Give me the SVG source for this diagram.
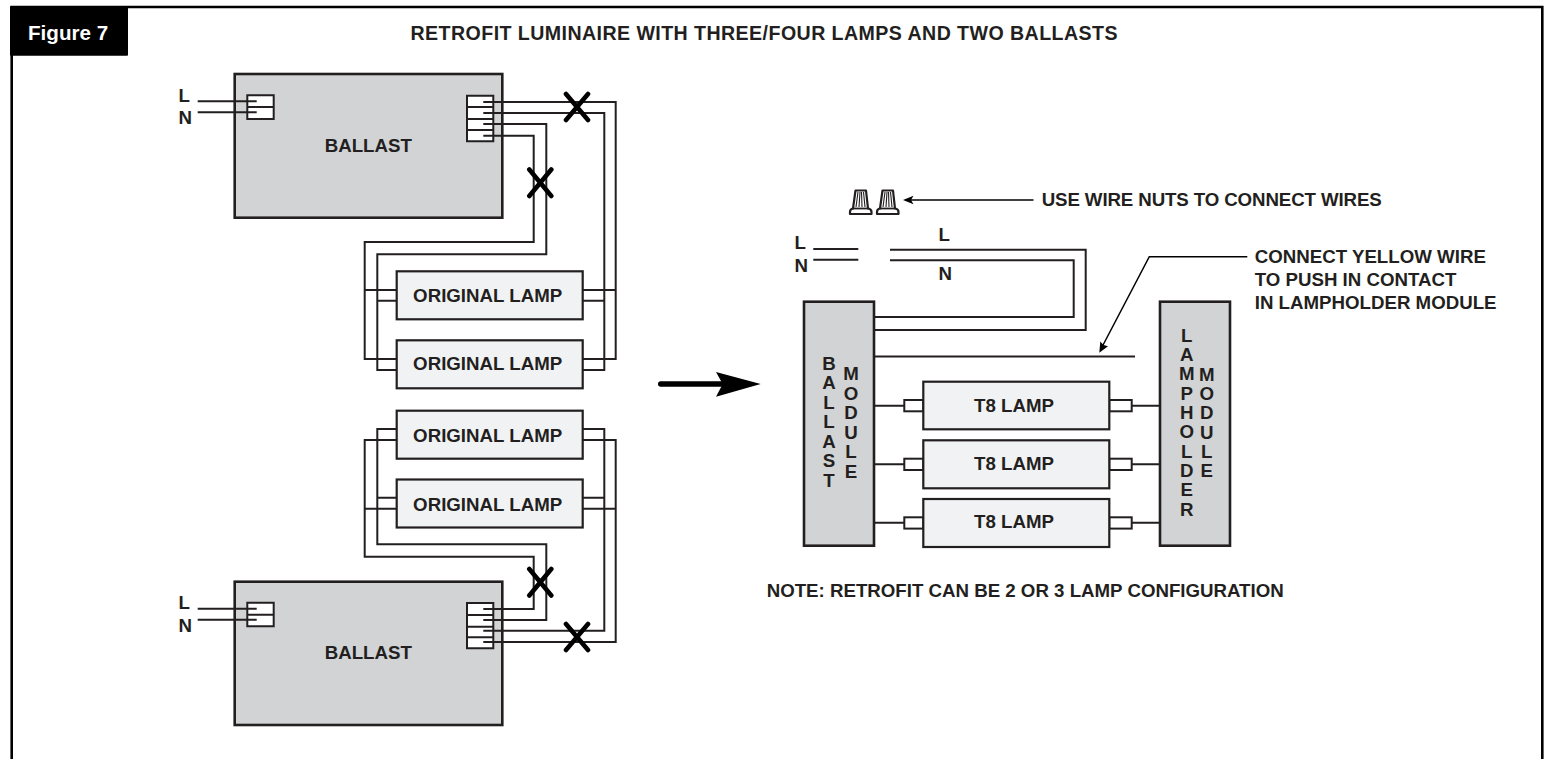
<svg xmlns="http://www.w3.org/2000/svg" width="1548" height="759" viewBox="0 0 1548 759">
<style>
text{font-family:"Liberation Sans",Arial,Helvetica,sans-serif;font-weight:700;fill:#231f20;font-size:18.7px}
.m{text-anchor:middle}
.box{fill:#d1d3d4;stroke:#231f20;stroke-width:2.6}
.lamp{fill:#f1f2f4;stroke:#231f20;stroke-width:2.2}
.term{fill:#fff;stroke:#231f20;stroke-width:2}
.w{fill:none;stroke:#231f20;stroke-width:2}
.x{fill:none;stroke:#000;stroke-width:4.6;stroke-linecap:round}
.l{fill:none;stroke:#000;stroke-width:1.5}
</style>
<defs>
<g id="nut">
<path d="M855.5 190.5H866L868 208.5Q871.5 209 871.5 212V214H850V212Q850 209 853 208.5Z" fill="#fff" stroke="#231f20" stroke-width="2.2" stroke-linejoin="round"/>
<path d="M853 208.5H868" fill="none" stroke="#231f20" stroke-width="1.8"/>
<path d="M858 192L856 207M860 192L859 207M861.5 192L862 207M863.5 192L865 207" fill="none" stroke="#231f20" stroke-width="1.1"/>
</g>
</defs>
<g id="frame">
<path d="M11.7 759V7H1542.3V759" fill="none" stroke="#000" stroke-width="2.6"/>
<rect x="10" y="6" width="118" height="49.7" rx="1" fill="#000"/>
<text x="28" y="40" style="fill:#fff;font-size:20.6px">Figure 7</text>
<text x="410.5" y="40" style="font-size:19.6px" textLength="707" lengthAdjust="spacing">RETROFIT LUMINAIRE WITH THREE/FOUR LAMPS AND TWO BALLASTS</text>
</g>
<g id="connectors">
<path class="w" d="M483.3 102H615.7V359H583M483.3 113H604.3V370H583M483.3 124H546.3V254.3H377.3V370H396.7M483.3 135.7H533.7V242H364.7V359H396.7"/>
<path class="w" d="M364.7 290H396.7M377.3 300.7H396.7M583 290H615.7M583 300.7H604.3"/>
<path class="w" d="M197.7 101.3H256.7M197.7 112.3H256.7"/>
<path class="w" d="M483.3 620H546.3V544.3H377.3V429H396.7M483.3 609H533.7V556.7H364.7V440H396.7M483.3 630.7H604.3V429H583M483.3 642H615.7V440H583"/>
<path class="w" d="M377.3 497.7H396.7M364.7 508.7H396.7M583 497.7H604.3M583 508.7H615.7"/>
<path class="w" d="M197.7 608.7H256.7M197.7 619.7H256.7"/>
<path class="w" d="M813.3 249H858.3M813.3 259.7H858.3M890 249.7H1085.7V330H874.3M890 260.3H1073.7V317H874.3M874 356.5H1135"/>
<path class="w" d="M874 405.7H904.3M874 464.3H904.3M874 522.7H904.3M1131.7 405.7H1160M1131.7 464.3H1160M1131.7 522.7H1160"/>
<path class="x" d="M566 94L588 120M588 94L566 120M529.3 169.5L551.3 196M551.3 169.5L529.3 196M529.3 569L551.3 595.5M551.3 569L529.3 595.5M566 624L588 650M588 624L566 650"/>
<path class="l" d="M1033.5 200H908"/>
<path d="M903 200L913.5 195.8L911 200L913.5 204.2Z" fill="#000"/>
<path class="l" d="M1247.3 256.7H1149.3L1102 347"/>
<path d="M1099.3 352.7L1100.3 341.5L1103.5 345L1108 346.2Z" fill="#000"/>
<path d="M660.7 384H723" fill="none" stroke="#000" stroke-width="5.4" stroke-linecap="round"/>
<path d="M760.7 384L716 372L722.7 384L716 396.7Z" fill="#000"/>
</g>
<g id="ballast-top">
<rect class="box" x="234.7" y="74" width="267.6" height="143.7"/>
<path class="term" d="M247.3 95.3H273.7V119H247.3ZM247.3 107H273.7M467 95.7H493.3V141.3H467ZM467 107H493.3M467 119H493.3M467 130H493.3"/>
<path class="w" d="M235 101.3H256.7M235 112.3H256.7M483.3 102H502M483.3 113H502M483.3 124H502M483.3 135.7H502"/>
<text class="m" x="368.3" y="152">BALLAST</text>
<text x="178.5" y="101.7">L</text><text x="178.5" y="124.3">N</text>
</g>
<g id="ballast-bottom">
<rect class="box" x="234.7" y="581.7" width="267.6" height="143.3"/>
<path class="term" d="M247.3 602.7H273.7V626.3H247.3ZM247.3 614.7H273.7M467 603H493.3V648.3H467ZM467 615H493.3M467 626.7H493.3M467 637.3H493.3"/>
<path class="w" d="M235 608.7H256.7M235 619.7H256.7M483.3 609H502M483.3 620H502M483.3 630.7H502M483.3 642H502"/>
<text class="m" x="368.3" y="658.7">BALLAST</text>
<text x="178.5" y="609">L</text><text x="178.5" y="631.7">N</text>
</g>
<g id="lamp-1"><rect class="lamp" x="396.7" y="271.3" width="186" height="48"/><text class="m" x="487.7" y="302">ORIGINAL LAMP</text></g>
<g id="lamp-2"><rect class="lamp" x="396.7" y="340.3" width="186" height="48"/><text class="m" x="487.7" y="370">ORIGINAL LAMP</text></g>
<g id="lamp-3"><rect class="lamp" x="396.7" y="410.7" width="186" height="48"/><text class="m" x="487.7" y="441.7">ORIGINAL LAMP</text></g>
<g id="lamp-4"><rect class="lamp" x="396.7" y="479.5" width="186" height="48"/><text class="m" x="487.7" y="510.7">ORIGINAL LAMP</text></g>
<g id="wire-nuts"><use href="#nut"/><use href="#nut" x="27"/></g>
<g id="labels">
<text x="1041.7" y="205.7" textLength="340" lengthAdjust="spacing">USE WIRE NUTS TO CONNECT WIRES</text>
<text x="794.5" y="249">L</text><text x="794.5" y="271.7">N</text>
<text x="938.5" y="241">L</text><text x="938.5" y="280">N</text>
<text x="1254.7" y="263.3">CONNECT YELLOW WIRE</text>
<text x="1254.7" y="286.3">TO PUSH IN CONTACT</text>
<text x="1254.7" y="309">IN LAMPHOLDER MODULE</text>
<text x="766.7" y="596.7" textLength="517" lengthAdjust="spacing">NOTE: RETROFIT CAN BE 2 OR 3 LAMP CONFIGURATION</text>
</g>
<g id="ballast-module">
<rect class="box" x="804" y="301.7" width="70" height="244"/>
<text class="m" x="829 829 829 829 829 829 829" y="370 389.4 408.9 428.3 447.8 467.2 486.7">BALLAST</text>
<text class="m" x="851 851 851 851 851 851" y="380 399.6 419.2 438.8 458.4 478">MODULE</text>
</g>
<g id="lampholder-module">
<rect class="box" x="1160" y="301.7" width="70" height="244"/>
<text class="m" x="1186.7 1186.7 1186.7 1186.7 1186.7 1186.7 1186.7 1186.7 1186.7 1186.7" y="341.7 361 380.4 399.7 419 438.4 457.7 477 496.4 515.7">LAMPHOLDER</text>
<text class="m" x="1206.7 1206.7 1206.7 1206.7 1206.7 1206.7" y="380.7 400 419.3 438.5 457.8 477">MODULE</text>
</g>
<g id="t8-lamp-1"><rect class="term" x="904.3" y="400" width="19" height="11.3"/><rect class="term" x="1109.3" y="400" width="22.4" height="11.3"/><rect class="lamp" x="923.3" y="381.7" width="186" height="47.6"/><text class="m" x="1014" y="412">T8 LAMP</text></g>
<g id="t8-lamp-2"><rect class="term" x="904.3" y="458.7" width="19" height="11.3"/><rect class="term" x="1109.3" y="458.7" width="22.4" height="11.3"/><rect class="lamp" x="923.3" y="440.3" width="186" height="48"/><text class="m" x="1014" y="470">T8 LAMP</text></g>
<g id="t8-lamp-3"><rect class="term" x="904.3" y="517.3" width="19" height="11.3"/><rect class="term" x="1109.3" y="517.3" width="22.4" height="11.3"/><rect class="lamp" x="923.3" y="499" width="186" height="48"/><text class="m" x="1014" y="528.3">T8 LAMP</text></g>
</svg>
